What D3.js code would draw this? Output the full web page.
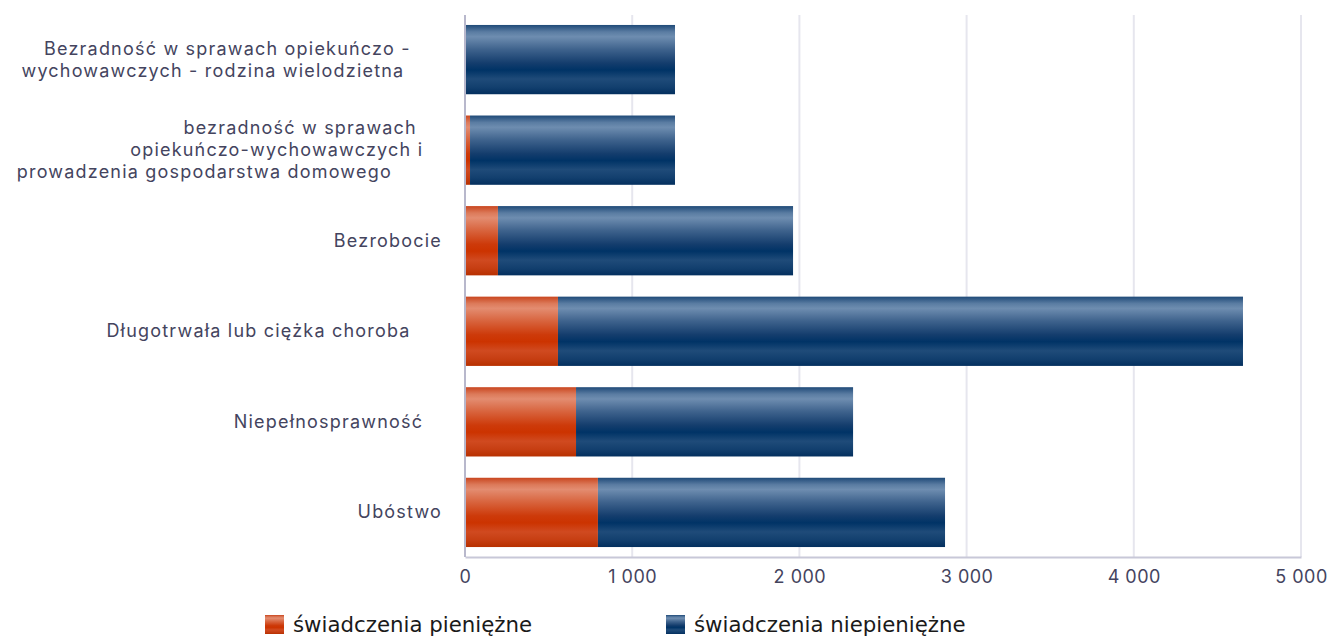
<!doctype html>
<meta charset="utf-8">
<body style="margin:0">

<div id="chart"></div>

<script src="https://d3js.org/d3.v7.min.js"></script>
<script>

// categories, top to bottom (trailing spaces are part of the original labels)
const categories = [
  ["Bezradność w sprawach opiekuńczo -     ", "wychowawczych - rodzina wielodzietna      "],
  ["bezradność w sprawach    ", "opiekuńczo-wychowawczych i   ", "prowadzenia gospodarstwa domowego        "],
  ["Bezrobocie"],
  ["Długotrwała lub ciężka choroba     "],
  ["Niepełnosprawność   "],
  ["Ubóstwo"]
]
const pieniezne = [0, 30, 197, 556, 664, 795]
const niepieniezne = [1256, 1226, 1765, 4097, 1657, 2076]
const seriesNames = ["świadczenia pieniężne", "świadczenia niepieniężne"]
const xTicks = [0, 1000, 2000, 3000, 4000, 5000]

function main () {
  const margin = { top: 15, right: 26, bottom: 80, left: 465 }
  const width = 1327 - margin.left - margin.right
  const height = 637 - margin.top - margin.bottom

  const root = d3.select("#chart").append("svg")
    .attr("width", 1327)
    .attr("height", 637)
    .style("display", "block")

  const defs = root.append("defs")
  const gradients = {
    red: [[0, "#c9461f"], [0.1, "#dc7a5a"], [0.17, "#e38c70"], [0.35, "#d8643e"], [0.55, "#cd3a0a"], [0.65, "#cc3300"], [0.78, "#d04a20"], [0.9, "#c63e12"], [1, "#b73000"]],
    blue: [[0, "#1f4a78"], [0.1, "#5a7ca2"], [0.17, "#6e8db0"], [0.35, "#3f638d"], [0.55, "#143d6d"], [0.65, "#003366"], [0.78, "#1f4b79"], [0.9, "#123f6e"], [1, "#032f5e"]]
  }
  Object.entries(gradients).forEach(([id, stops]) => {
    const g = defs.append("linearGradient")
      .attr("id", "grad-" + id)
      .attr("x1", 0).attr("y1", 0).attr("x2", 0).attr("y2", 1)
    g.selectAll("stop").data(stops).enter().append("stop")
      .attr("offset", d => d[0])
      .attr("stop-color", d => d[1])
  })

  const svg = root.append("g")
    .attr("transform", "translate(" + margin.left + "," + margin.top + ")")

  const x = d3.scaleLinear().domain([0, 5000]).range([0, width])
  const y = d3.scaleBand()
    .domain(d3.range(categories.length))
    .range([0, height])
    .paddingInner(0.235)
    .paddingOuter(0.11)

  // grid
  svg.append("g")
    .selectAll("line")
    .data(xTicks.slice(1))
    .enter().append("line")
    .attr("x1", d => x(d)).attr("x2", d => x(d))
    .attr("y1", 0).attr("y2", height)
    .attr("stroke", "#e6e6ee")
    .attr("stroke-width", 2)

  const fmt = d => d3.format(",")(d).replace(/,/g, " ")

  const xAxis = svg.append("g")
    .attr("transform", "translate(0," + height + ")")
    .call(d3.axisBottom(x).tickValues(xTicks).tickFormat(fmt).tickSize(0).tickPadding(13))
  xAxis.select(".domain").attr("stroke", "#c8c8d8").attr("stroke-width", 2)
  xAxis.selectAll("text")
    .attr("fill", "#44445e")
    .style("font-family", "Inter, sans-serif")
    .style("font-size", "18px")
    .style("letter-spacing", "0.5px")

  // stacked bars
  const stackData = categories.map((c, i) => ({ i, a: pieniezne[i], b: niepieniezne[i] }))
  const series = d3.stack().keys(["a", "b"])(stackData)
  const fills = ["url(#grad-red)", "url(#grad-blue)"]

  svg.selectAll(".series")
    .data(series)
    .enter().append("g")
    .attr("fill", (d, i) => fills[i])
    .selectAll("rect")
    .data(d => d)
    .enter().append("rect")
    .attr("x", d => x(d[0]))
    .attr("width", d => x(d[1]) - x(d[0]))
    .attr("y", d => y(d.data.i))
    .attr("height", y.bandwidth())

  // y axis line
  svg.append("line")
    .attr("x1", 0).attr("x2", 0)
    .attr("y1", 0).attr("y2", height)
    .attr("stroke", "#b8b8cc")
    .attr("stroke-width", 2)

  // category labels
  const lineH = 22
  const labels = svg.append("g")
    .selectAll("text")
    .data(categories)
    .enter().append("text")
    .attr("text-anchor", "end")
    .attr("fill", "#44445e")
    .style("font-family", "Inter, sans-serif")
    .style("font-size", "18px")
    .style("letter-spacing", "1.2px")
    .style("white-space", "pre")
    .attr("y", (d, i) => y(i) + y.bandwidth() / 2)

  labels.selectAll("tspan")
    .data(d => d.map((t, k) => ({ t, k, n: d.length })))
    .enter().append("tspan")
    .attr("x", -23)
    .attr("dy", d => d.k === 0 ? ((-(d.n - 1) / 2) * lineH + 6) + "px" : lineH + "px")
    .text(d => d.t)

  // legend
  const legend = root.append("g")
    .attr("transform", "translate(0,624)")
  const legendX = [265, 666]
  const items = legend.selectAll("g")
    .data(seriesNames)
    .enter().append("g")
    .attr("transform", (d, i) => "translate(" + legendX[i] + ",0)")
  items.append("rect")
    .attr("y", -9)
    .attr("width", 19)
    .attr("height", 19)
    .attr("fill", (d, i) => fills[i])
  items.append("text")
    .attr("x", 28)
    .attr("y", 8)
    .attr("fill", "#1a1a1a")
    .style("font-family", "DejaVu Sans, sans-serif")
    .style("font-size", "21.3px")
    .text(d => d)
}

main()

</script>
</body>
